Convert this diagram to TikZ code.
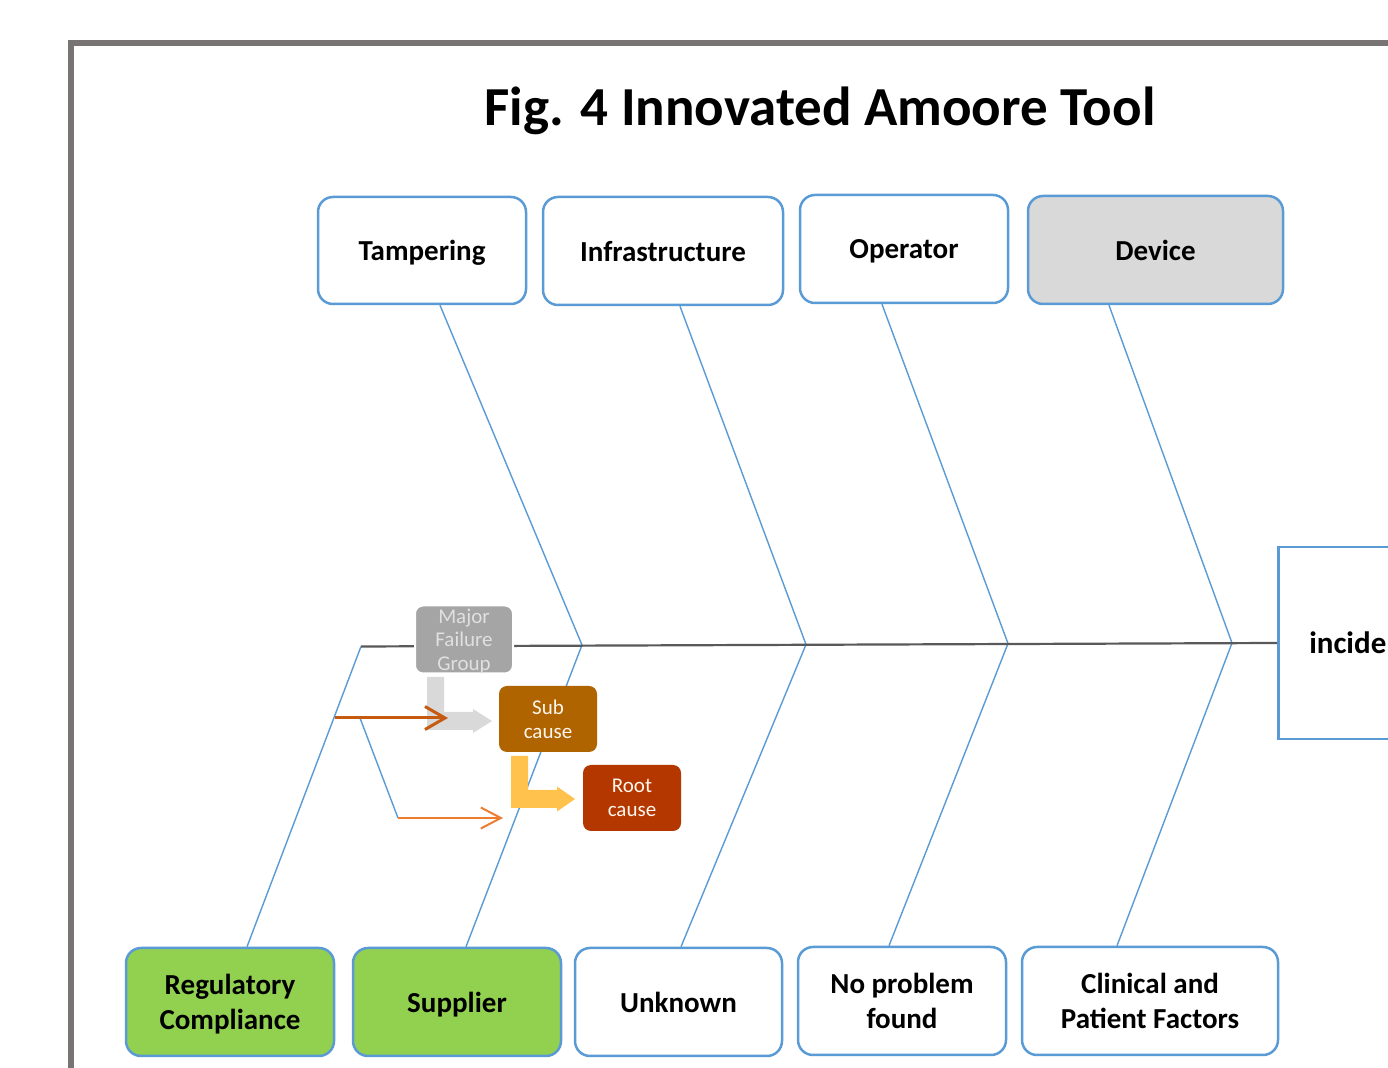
\documentclass[tikz,border=0pt]{standalone}
\usepackage{fontspec}
\setmainfont{Carlito}
\usetikzlibrary{arrows.meta,calc}
\definecolor{bblue}{HTML}{5B9BD5}
\definecolor{spinegray}{HTML}{595959}
\definecolor{framegray}{HTML}{787474}
\definecolor{devgray}{HTML}{D9D9D9}
\definecolor{lgreen}{HTML}{92D050}
\definecolor{mfgray}{HTML}{A5A5A5}
\definecolor{subbrown}{HTML}{AF6400}
\definecolor{rootred}{HTML}{B43700}
\definecolor{arrgray}{HTML}{D9D9D9}
\definecolor{arryellow}{HTML}{FFC34D}
\definecolor{darkorange}{HTML}{C55A11}
\definecolor{lorange}{HTML}{ED7D31}
\begin{document}
\begin{tikzpicture}[x=0.5pt,y=-0.5pt,
  catbox/.style={draw=bblue, line width=1.25pt, rounded corners=7.5pt, fill=white,
    font=\fontsize{14.5}{17.5}\selectfont\bfseries, align=center, inner sep=0pt,
    text depth=0pt},
  smallbox/.style={rounded corners=4pt, inner sep=0pt, align=center,
    minimum width=49pt, minimum height=33pt, font=\fontsize{10.5}{11.8}\selectfont},
  bone/.style={draw=bblue, line width=0.7pt},
  spine/.style={draw=spinegray, line width=1.1pt},
  incbox/.style={draw=bblue, line width=1.25pt, fill=white, inner xsep=15.5pt,
    text width=90pt, align=left, minimum height=96pt,
    font=\fontsize{15.5}{18.5}\selectfont\bfseries}
]
\useasboundingbox (0,0) rectangle (1388,1068);
\clip (0,0) rectangle (1388,1068);
\fill[white] (0,0) rectangle (1388,1068);

% frame
\draw[framegray, line width=3pt] (71,1100) -- (71,43) -- (1420,43);

% title
\node[font=\fontsize{27.5}{33}\selectfont\bfseries] (title) at (820,111) {Fig. 4 Innovated Amoore Tool};

% category boxes
\node[catbox, minimum width=104pt, minimum height=53.5pt] (tamp) at (422,250.5) {Tampering};
\node[catbox, minimum width=120pt, minimum height=54pt] (infra) at (663,251) {Infrastructure};
\node[catbox, minimum width=104pt, minimum height=54pt] (oper) at (904,249) {Operator};
\node[catbox, fill=devgray, minimum width=127.5pt, minimum height=54pt] (dev) at (1155.5,250) {Device};

\node[catbox, fill=lgreen, minimum width=104pt, minimum height=54pt] (reg) at (230,1002) {Regulatory\\Compliance};
\node[catbox, fill=lgreen, minimum width=104pt, minimum height=54pt] (supp) at (457,1002) {Supplier};
\node[catbox, minimum width=103.5pt, minimum height=54pt] (unk) at (678.5,1002) {Unknown};
\node[catbox, minimum width=104pt, minimum height=54pt] (nop) at (902,1001) {No problem\\found};
\node[catbox, minimum width=128pt, minimum height=54pt] (clin) at (1150,1001) {Clinical and\\Patient Factors};

% effect box
\node[incbox, anchor=west] (inc) at (1277,643) {incident};

% spine joints
\coordinate (sp0) at (361,646.5);
\coordinate (j1) at (582,645);
\coordinate (j2) at (806,644.5);
\coordinate (j3) at (1008,643.5);
\coordinate (j4) at (1232,643);

% bones
\draw[bone] ($(tamp.south)+(18,0)$) -- (j1);
\draw[bone] ($(infra.south)+(17,0)$) -- (j2);
\draw[bone] ($(oper.south)+(-22,0)$) -- (j3);
\draw[bone] ($(dev.south)+(-46.5,0)$) -- (j4);
\draw[bone] (sp0) -- ($(reg.north)+(17,0)$);
\draw[bone] (j1) -- ($(supp.north)+(9,0)$);
\draw[bone] (j2) -- ($(unk.north)+(2.5,0)$);
\draw[bone] (j3) -- ($(nop.north)+(-13,0)$);
\draw[bone] (j4) -- ($(clin.north)+(-33,0)$);

% spine
\draw[spine] (sp0) -- (inc.west);

% legend: sub-branch
\coordinate (a1) at (335,718);
\coordinate (a2) at (360,718);
\coordinate (a3) at (398,818);
\coordinate (a4) at (503,818);
\coordinate (a5) at (448,718);
\draw[bone] (a2) -- (a3);

% gray bent arrow
\fill[arrgray] (427,677) -- (444,677) -- (444,712) -- (473,712) -- (473,709)
  -- (492,721) -- (473,733) -- (473,730) -- (427,730) -- cycle;
% yellow bent arrow
\fill[arryellow] (511,756) -- (528,756) -- (528,790) -- (557,790) -- (557,786.5)
  -- (575,799) -- (557,811.5) -- (557,808) -- (511,808) -- cycle;

% orange arrows
\draw[darkorange, line width=1.5pt, -{Straight Barb[length=10pt,width=11.5pt,line width=1.5pt]}] (a1) -- (a5);
\draw[lorange, line width=1pt, -{Straight Barb[length=10pt,width=10.5pt,line width=1pt]}] (a3) -- (a4);

% legend boxes
\node[smallbox, fill=mfgray, draw=white, line width=1pt, text=white!88!black,
  minimum height=34pt, text depth=0pt] (mfg) at (464,639.5) {Major\\Failure\\Group};
\node[smallbox, fill=subbrown, text=white!93!orange] (sub) at (548,719) {Sub\\cause};
\node[smallbox, fill=rootred, text=white!93!orange] (root) at (632,798) {Root\\cause};
\end{tikzpicture}
\end{document}
